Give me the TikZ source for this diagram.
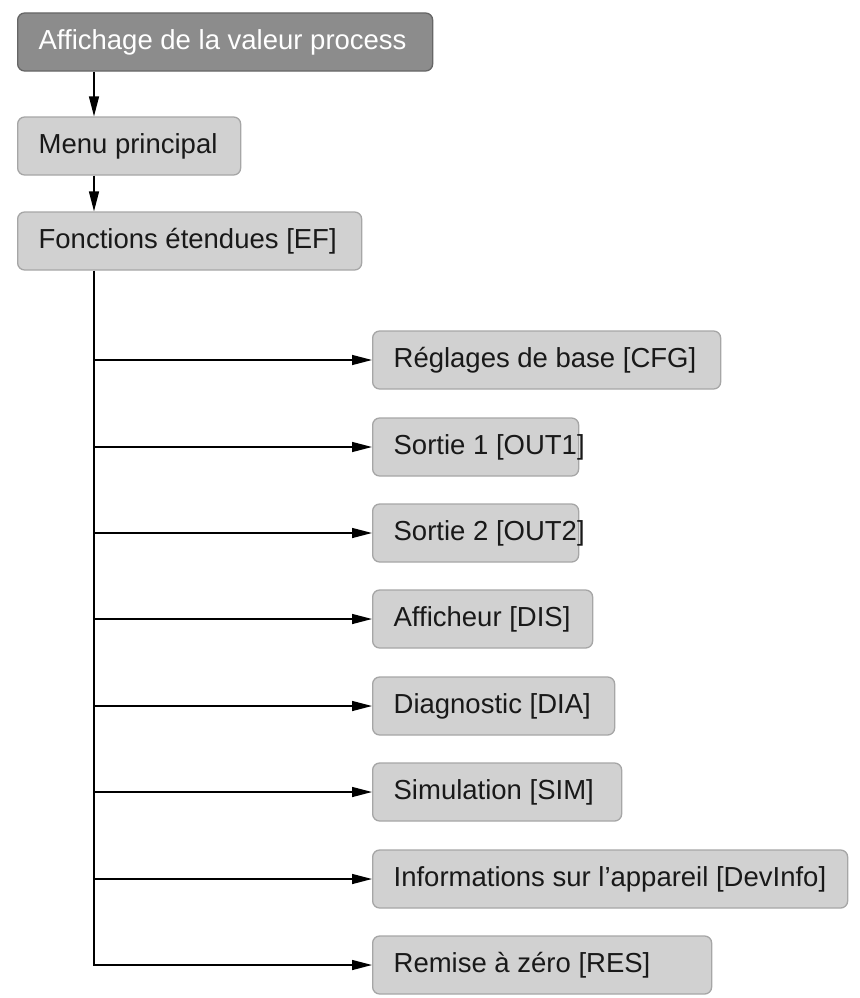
\documentclass[tikz,border=0pt]{standalone}
\usepackage{fontspec}
\setmainfont{Liberation Sans}
\usetikzlibrary{arrows.meta}
\begin{document}
\begin{tikzpicture}[x=1pt,y=-1pt,
  box/.style={draw=black!35,line width=1.3pt,fill=black!18,rounded corners=7pt,anchor=west,
    minimum height=58pt,inner xsep=21pt,inner ysep=0pt,text=black!90,
    font=\fontsize{27.5}{30}\selectfont},
  top/.style={box,fill=black!45,draw=black!60,text=white},
  arr/.style={line width=1.4pt,-{Triangle[length=20pt,width=10pt]}}]
\useasboundingbox (0,0) rectangle (859,998);
\newcommand\bx[2]{\makebox[#1pt][l]{#2}}
\node[top] (a) at (17,42) {\bx{373}{Affichage de la valeur process}};
\node[box] (m) at (17,146) {\bx{181}{Menu principal}};
\node[box] (f) at (17,241) {\bx{302}{Fonctions étendues [EF]}};
\coordinate (t0) at (94,270);
\draw[arr] (a.south -| t0) -- (m.north -| t0);
\draw[arr] (m.south -| t0) -- (f.north -| t0);
\node[box] (c1) at (372,360) {\bx{306}{Réglages de base [CFG]}};
\node[box] (c2) at (372,447) {\bx{164}{Sortie 1 [OUT1]}};
\node[box] (c3) at (372,533) {\bx{164}{Sortie 2 [OUT2]}};
\node[box] (c4) at (372,619) {\bx{178}{Afficheur [DIS]}};
\node[box] (c5) at (372,706) {\bx{200}{Diagnostic [DIA]}};
\node[box] (c6) at (372,792) {\bx{207}{Simulation [SIM]}};
\node[box] (c7) at (372,879) {\bx{433}{Informations sur l’appareil [DevInfo]}};
\node[box] (c8) at (372,965) {\bx{297}{Remise à zéro [RES]}};
\draw[line width=1.4pt] (f.south -| t0) -- (94,965.7);
\foreach \n in {c1,c2,c3,c4,c5,c6,c7,c8}{
  \draw[arr] (t0 |- \n.west) -- (\n.west);
}
\end{tikzpicture}
\end{document}
